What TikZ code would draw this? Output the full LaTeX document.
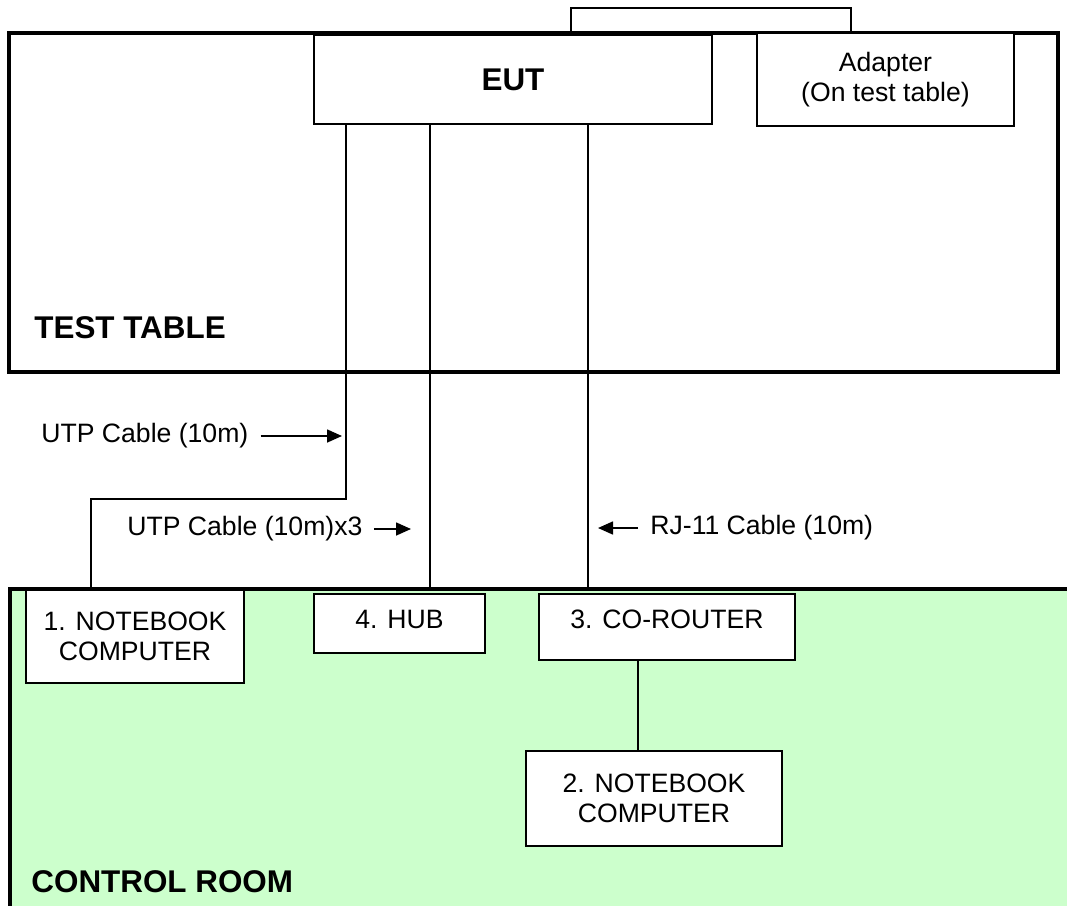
\documentclass[tikz,border=0pt]{standalone}
\usepackage{fontspec}
\setmainfont{Liberation Sans}
\usetikzlibrary{arrows.meta}
\definecolor{roomgreen}{HTML}{CCFFCC}

\tikzset{
  unit/.style={draw, fill=white, line width=1pt, inner sep=0pt, align=center,
    font=\fontsize{13.3}{15}\selectfont},
  topline/.style={anchor=north, text height=17pt},
  cable/.style={line width=0.7pt},
  wall/.style={line width=2.2pt},
  tag/.style={anchor=west, inner sep=0pt, font=\fontsize{13.3}{15}\selectfont},
  roomname/.style={anchor=west, inner sep=0pt, font=\bfseries\fontsize{15.7}{18}\selectfont},
  note/.style={-{Triangle[length=7.5pt,width=6.5pt]}, line width=0.8pt}
}

\begin{document}
\begin{tikzpicture}[x=0.5pt,y=-0.5pt]
  \clip (0,0) rectangle (1067,906);

  % rooms
  \fill[roomgreen] (10,589) rectangle (1090,930);
  \draw[wall] (10,930) -- (10,589) -- (1090,589);
  \draw[wall] (9,33) rectangle (1058,372);
  \node[roomname] (table) at (34,328) {TEST TABLE};
  \node[roomname] (room) at (31,882) {CONTROL ROOM};

  % equipment
  \node[unit, minimum width=199pt, minimum height=44.5pt,
    font=\bfseries\fontsize{15.7}{18}\selectfont] (eut) at (513,79.5) {EUT};
  \node[unit, minimum width=128.5pt, minimum height=46.5pt] (adapter) at (885.5,79.5)
    {Adapter\\(On test table)};
  \node[unit, minimum width=109pt, minimum height=46.5pt] (nb1) at (135,636)
    {1. NOTEBOOK\\COMPUTER};
  \node[unit, topline, text depth=12.5pt, minimum width=85.5pt] (hub) at (399.5,593) {4. HUB};
  \node[unit, topline, text depth=16pt, minimum width=128pt] (router) at (667,593) {3. CO-ROUTER};
  \node[unit, minimum width=128pt, minimum height=47.5pt] (nb2) at (654,798)
    {2. NOTEBOOK\\COMPUTER};

  % cable routes
  \coordinate (roomtop) at (0,589);
  \coordinate (jackA) at (571,8);
  \coordinate (jackB) at (851,8);
  \coordinate (bendA) at (346,499);
  \coordinate (bendB) at (91,499);
  \coordinate (tapB) at (430,499);
  \coordinate (tapC) at (588,499);
  \coordinate (tapD) at (638,700);

  \draw[cable] (eut.north -| jackA) -- (jackA) -- (jackB) -- (adapter.north -| jackB);
  \draw[cable] (eut.south -| bendA) -- (bendA) -- (bendB) -- (bendB |- roomtop);
  \draw[cable] (eut.south -| tapB) -- (tapB |- roomtop);
  \draw[cable] (eut.south -| tapC) -- (tapC |- roomtop);
  \draw[cable] (router.south -| tapD) -- (nb2.north -| tapD);

  % cable labels
  \node[tag] (utp1) at (41,436) {UTP Cable (10m)};
  \node[tag] (utp3) at (127,529) {UTP Cable (10m)x3};
  \node[tag] (rj11) at (650,528) {RJ-11 Cable (10m)};
  \draw[note] ([xshift=6pt]utp1.east) -- ([xshift=-2pt]utp1.east -| bendA);
  \draw[note] ([xshift=5.5pt]utp3.east) -- ([xshift=-9.5pt]utp3.east -| tapB);
  \draw[note] ([xshift=-6pt]rj11.west) -- ([xshift=5pt]rj11.west -| tapC);
\end{tikzpicture}
\end{document}
